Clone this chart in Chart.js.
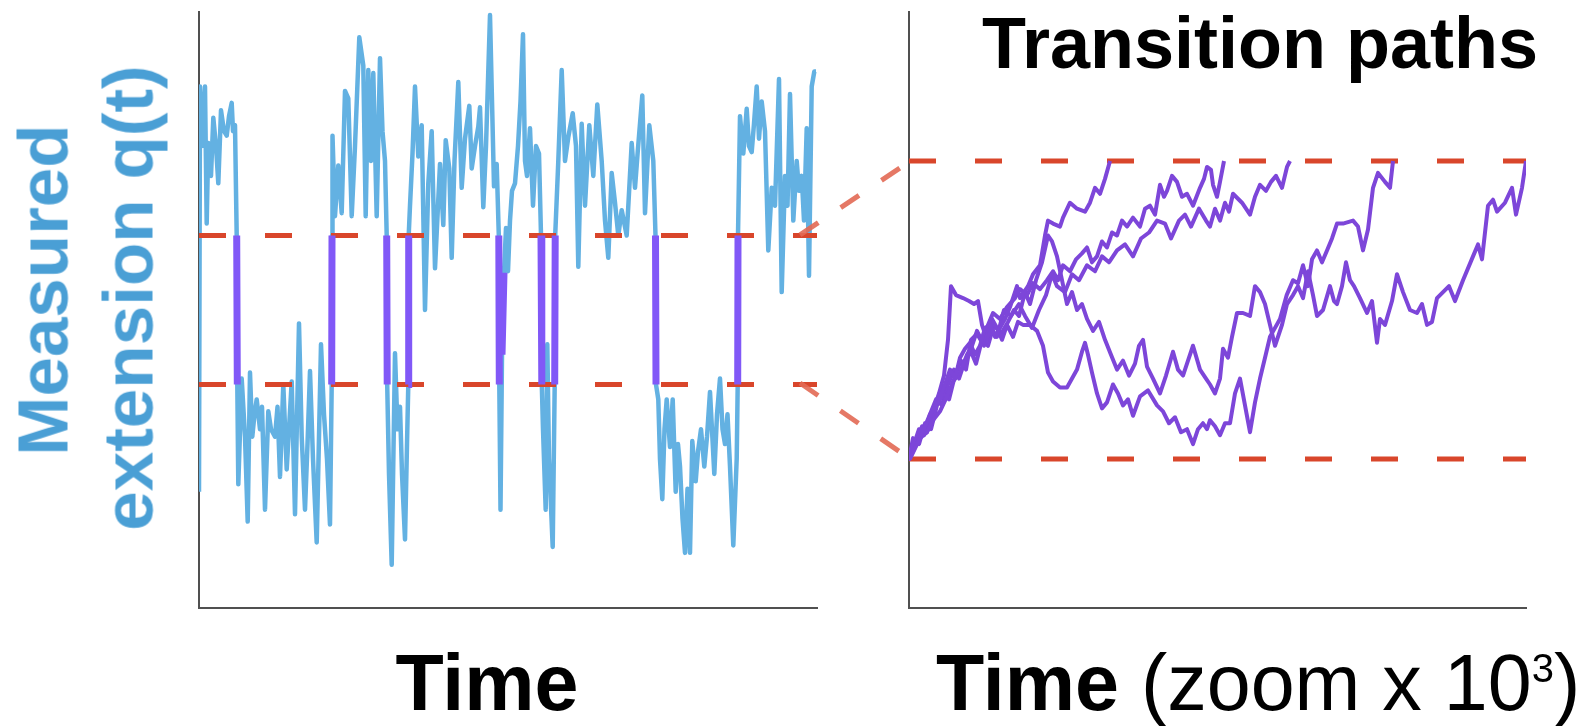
<!DOCTYPE html>
<html>
<head>
<meta charset="utf-8">
<title>Transition paths</title>
<script src="https://cdn.jsdelivr.net/npm/chart.js@4.4.1/dist/chart.umd.min.js"></script>
<style>
  html, body { margin: 0; padding: 0; background: #fff; }
  #figure { position: relative; width: 1589px; height: 726px; overflow: hidden; font-family: "Liberation Sans", Arial, sans-serif; }
  canvas { position: absolute; top: 0; }
  #leftChart { left: 0; }
  #rightChart { left: 780px; }
  .label { position: absolute; white-space: nowrap; line-height: 1; }
  .ylab { font-weight: bold; font-size: 71px; color: #4a9fd5; transform: translate(-50%, -50%) rotate(-90deg); }
  .xlab { font-size: 79px; color: #000; top: 643px; }
  .title { font-weight: bold; font-size: 72px; color: #000; top: 7px; left: 1260px; transform: translateX(-50%); }
  sup { font-size: 40px; vertical-align: 28px; line-height: 1; }
</style>
</head>
<body>
<div id="figure">
  <canvas id="leftChart" width="830" height="726"></canvas>
  <canvas id="rightChart" width="809" height="726"></canvas>
  <div class="label ylab" style="left:43px; top:290px;">Measured</div>
  <div class="label ylab" style="left:128px; top:298px;">extension q(t)</div>
  <div class="label xlab" style="left:487px; transform:translateX(-50%); font-weight:bold;">Time</div>
  <div class="label xlab" style="left:936px;"><b>Time</b> (zoom x 10<sup>3</sup>)</div>
  <div class="label title">Transition paths</div>
</div>
<script>
// Measured extension trace: [time, q], q in units of the two thresholds (0 = lower, 1 = upper)
const extensionTrace = [
    [0,-0.72],[1,2.0],[3,1.6],[6,2.0],[7.7,1.08],[9.3,1.62],[12,1.4],[14.3,1.79],[17,1.6],[19.3,1.35],[22,1.84],[25,1.7],[27.7,1.67],[30,1.8],[32.7,1.89],[34,1.7],[36,1.74],[37.7,1.0],
    [38.3,0.0],[39.3,-0.67],[42.7,0.04],[46,-0.35],[48.7,-0.92],[51,0.08],[53.3,-0.35],[55.5,-0.2],[57.7,-0.1],[61,-0.3],[63,-0.15],[66,-0.84],[69.3,-0.18],[72,-0.3],[76,-0.35],[78.5,-0.15],[81,-0.62],[84.3,0.0],[87.7,-0.57],[90,-0.3],[92.7,0.02],[96,-0.87],[100,0.41],[102.7,-0.35],[106,-0.84],[108.5,-0.4],[111,0.09],[114,-0.5],[117.7,-1.06],[122,0.27],[125,-0.2],[128,-0.5],[131,-0.94],[132.7,0.0],
    [133,1.0],[133.5,1.67],[136,1.13],[139.3,1.47],[142.7,1.15],[146,1.97],[149.3,1.92],[152.7,1.13],[156,1.6],[160.3,2.33],[164.3,2.14],[166.7,1.13],[169.3,2.11],[172,1.5],[174.3,2.09],[177.7,1.13],[181,2.19],[183.5,1.7],[186,1.5],[187.7,1.0],
    [188.2,0.0],[190,-0.6],[192.7,-1.21],[196,0.21],[198.5,-0.3],[201,-0.15],[203,-0.6],[206,-1.04],[208,-0.4],[209.3,0.0],
    [209.7,1.0],[211,1.2],[213.5,1.55],[216,2.0],[219.3,1.53],[222.7,1.74],[226,0.5],[229.3,1.35],[232.7,1.7],[236,0.78],[239,1.2],[241,1.48],[244.3,1.07],[246.7,1.64],[250.3,1.45],[252.7,0.85],[255.5,1.5],[259.3,2.03],[262.7,1.32],[266,1.65],[270.3,1.87],[272.7,1.45],[276,1.6],[279.3,1.73],[281,1.86],[284.3,1.19],[287,1.6],[291,2.48],[295,1.33],[297.7,1.48],[299.8,1.0],
    [300.3,0.0],[301.5,-0.84],[303,0.2],[305,0.75],[307,1.05],[309,0.76],[311,1.1],[313,1.3],[316,1.35],[319,1.6],[321.5,1.9],[324,2.35],[326,1.5],[328,1.4],[331,1.72],[334,1.2],[337,1.6],[340,1.55],[342,1.0],
    [342.8,0.0],[344,-0.3],[346.7,-0.84],[348.3,0.27],[350,-0.5],[353.7,-1.09],[355.7,0.0],
    [356.2,1.0],[359.3,1.5],[362.7,2.11],[366,1.5],[369.3,1.66],[373.7,1.82],[377,1.6],[379.3,0.79],[382.7,1.75],[386,1.2],[390.3,1.74],[394.3,1.4],[398.3,1.88],[402.7,1.5],[406,1.1],[409.3,0.85],[412.7,1.42],[416,1.22],[419.3,1.0],[422.7,1.17],[427.7,1.0],[432.7,1.62],[436,1.32],[438.7,1.56],[443.3,1.94],[446,1.15],[450.3,1.74],[454.3,1.5],[456.5,1.0],
    [457,0.0],[459.3,-0.1],[461,-0.5],[463.3,-0.77],[465.5,-0.3],[467.7,-0.1],[471,-0.42],[473.7,-0.1],[476.7,-0.72],[479,-0.4],[481,-0.55],[483.5,-0.9],[486,-1.13],[488.5,-0.7],[491,-1.13],[493.3,-0.38],[496.7,-0.65],[499,-0.45],[502,-0.3],[505.3,-0.55],[508,-0.35],[511,-0.05],[515.3,-0.6],[518,-0.2],[521,0.04],[523.5,-0.3],[526,-0.4],[528.5,-0.2],[531,-0.55],[534.3,-1.08],[537.7,-0.5],[538.7,0.0],
    [539,1.0],[541,1.8],[544.3,1.55],[547.7,1.85],[550,1.6],[552.7,1.56],[555,1.75],[557.7,2.0],[560,1.65],[562.7,1.9],[566,1.7],[569.3,0.9],[572.7,1.32],[576,1.2],[580,2.05],[582.7,0.62],[586,1.4],[588.5,1.2],[591,1.95],[594.3,1.1],[597.7,1.5],[600,1.3],[602.7,1.4],[605,1.1],[607.7,1.72],[610,0.73],[612.7,2.0],[615.3,2.1],[617,2.1]
];

// Threshold levels (lower / upper)
const thresholds = [0, 1];

// Zoomed transition paths: [time, q]
const pathA = [[0,0],[1,0],[11,0.07],[21,0.15],[31,0.2],[41,0.3],[46,0.27],[51,0.34],[56,0.37],[61,0.39],[66,0.35],[71,0.38],[76,0.44],[81,0.45],[86,0.41],[91,0.44],[96,0.47],[101,0.51],[108,0.58],[111,0.54],[119,0.58],[124,0.62],[131,0.65],[136,0.75],[139,0.8],[144,0.79],[151,0.78],[154,0.81],[161,0.86],[168,0.84],[176,0.83],[181,0.86],[186,0.91],[191,0.89],[196,0.94],[201,1.0]];
const pathB = [[0,0],[6,0.04],[11,0.07],[18,0.09],[24,0.13],[31,0.16],[38,0.21],[44,0.26],[51,0.29],[58,0.35],[63,0.38],[68,0.43],[74,0.39],[79,0.45],[84,0.49],[91,0.47],[98,0.51],[106,0.54],[111,0.57],[118,0.55],[124,0.59],[131,0.57],[138,0.6],[144,0.63],[149,0.6],[154,0.65],[161,0.63],[167,0.67],[173,0.69],[178,0.71],[183,0.66],[188,0.68],[193,0.73],[198,0.71],[203,0.76],[208,0.75],[213,0.8],[218,0.78],[224,0.81],[231,0.78],[236,0.84],[241,0.85],[246,0.82],[251,0.92],[255,0.88],[258,0.9],[263,0.95],[268,0.93],[273,0.88],[278,0.89],[284,0.85],[291,0.91],[295,0.94],[298,0.98],[302,0.97],[304,0.92],[308,0.88],[311,0.93],[315,1.0]];
const pathC = [[0,0],[5,0.06],[10,0.05],[16,0.12],[22,0.1],[28,0.18],[34,0.22],[40,0.2],[46,0.28],[52,0.33],[57,0.3],[62,0.4],[68,0.42],[75,0.38],[82,0.44],[88,0.41],[95,0.5],[102,0.48],[110,0.52],[116,0.48],[123,0.44],[130,0.5],[137,0.55],[143,0.62],[148,0.58],[156,0.56],[163,0.62],[170,0.6],[178,0.65],[186,0.63],[193,0.68],[200,0.66],[208,0.7],[216,0.72],[224,0.68],[232,0.74],[240,0.76],[248,0.8],[256,0.79],[262,0.74],[270,0.8],[276,0.82],[282,0.78],[290,0.84],[297,0.8],[301,0.78],[306,0.84],[311,0.8],[316,0.86],[320,0.83],[324,0.89],[333,0.86],[341,0.82],[346,0.88],[351,0.92],[357,0.9],[362,0.93],[367,0.95],[373,0.91],[378,0.98],[381,1.0]];
const pathD = [[0,0],[4,0.07],[8,0.05],[13,0.11],[18,0.09],[24,0.16],[30,0.22],[35,0.28],[39,0.4],[42,0.58],[47,0.55],[54,0.54],[60,0.53],[65,0.52],[69,0.53],[73,0.45],[78,0.4],[83,0.47],[88,0.44],[93,0.4],[98,0.45],[104,0.41],[109,0.46],[114,0.45],[121,0.45],[128,0.43],[134,0.38],[139,0.29],[144,0.26],[151,0.24],[158,0.24],[163,0.27],[168,0.3],[173,0.36],[176,0.39],[179,0.35],[183,0.29],[188,0.22],[193,0.17],[198,0.19],[204,0.25],[209,0.22],[214,0.18],[219,0.2],[224,0.145],[231,0.21],[239,0.23],[248,0.18],[254,0.16],[260,0.12],[266,0.14],[272,0.09],[278,0.1],[284,0.05],[289,0.1],[294,0.12],[298,0.1],[301,0.13],[306,0.11],[311,0.08],[316,0.12],[321,0.12],[326,0.22],[331,0.27],[336,0.18],[341,0.09],[346,0.19],[351,0.27],[356,0.34],[361,0.41],[366,0.44],[371,0.47],[377.7,0.55],[384,0.6],[389,0.59],[394,0.65],[399,0.58],[403,0.67],[408,0.7],[413,0.66],[418,0.7],[423,0.74],[428,0.79],[434,0.79],[444,0.8],[449,0.78],[454,0.7],[459,0.77],[464,0.91],[469,0.96],[476,0.93],[481,0.91],[484,1.0]];
const pathE = [[0,0],[5,0.05],[10,0.1],[15,0.08],[21,0.15],[27,0.2],[33,0.18],[39,0.25],[45,0.3],[50,0.27],[56,0.33],[62,0.36],[67,0.32],[73,0.4],[79,0.38],[85,0.45],[92,0.42],[99,0.46],[105,0.5],[110,0.48],[116,0.56],[121,0.52],[127,0.6],[133,0.66],[139,0.75],[143,0.73],[148,0.68],[153,0.6],[158,0.52],[163,0.56],[168,0.5],[173,0.52],[178,0.47],[184,0.43],[190,0.46],[196,0.4],[202,0.35],[208,0.3],[214,0.33],[220,0.28],[226,0.32],[230,0.38],[234,0.4],[238,0.31],[244,0.27],[251,0.22],[257,0.28],[264,0.36],[269,0.3],[274,0.28],[279,0.33],[284,0.38],[291,0.3],[297,0.27],[301,0.25],[306,0.22],[311,0.27],[314,0.37],[319,0.34],[323,0.41],[328,0.49],[334,0.49],[341,0.48],[346,0.58],[351,0.56],[356,0.52],[361,0.45],[366,0.38],[373,0.45],[378,0.52],[384,0.55],[389,0.58],[394,0.54],[399,0.63],[404,0.55],[408,0.48],[414,0.5],[421,0.58],[425,0.53],[428,0.52],[433,0.58],[437,0.66],[441,0.6],[445,0.58],[451,0.54],[458,0.49],[463,0.53],[468,0.39],[471,0.47],[476,0.45],[483,0.53],[488,0.62],[494,0.56],[501,0.5],[508,0.49],[513,0.52],[518,0.45],[523,0.46],[528,0.54],[534,0.56],[540,0.58],[546,0.53],[554,0.6],[564,0.68],[569,0.72],[573,0.67],[579,0.85],[584,0.87],[588,0.83],[596,0.86],[603,0.91],[607,0.82],[613,0.91],[617,1.0]];

// Zoom connectors, in the right panel's units (time < 0 lies left of its axis)
const connectorUpper = [[-109, 0.752], [-3, 0.99]];
const connectorLower = [[-109, 0.255], [-3, 0.01]];

const leftTimeMax = 618;
const rightTimeMax = 617;

// Colors
const traceBlue = '#63b1e2';
const barPurple = '#8158f7';
const pathPurple = '#7d46d9';
const dashRed = '#d9462b';
const axisGray = '#505050';

function toPoints(pairs) {
    return pairs.map(p => ({ x: p[0], y: p[1] }));
}

// Pieces of the trace lying between the two thresholds
function transitionPieces(trace) {
    const pts = [];
    for (let i = 0; i < trace.length - 1; i++) {
        const a = trace[i], b = trace[i + 1];
        if (a[1] >= 0 && a[1] <= 1 && b[1] >= 0 && b[1] <= 1) {
            pts.push({ x: a[0], y: a[1] }, { x: b[0], y: b[1] }, { x: b[0], y: null });
        }
    }
    return pts;
}

function thresholdDataset(level, tMax) {
    return {
        data: [{ x: 0, y: level }, { x: tMax, y: level }],
        borderColor: dashRed,
        borderWidth: 5,
        borderDash: [27, 39],
        borderCapStyle: 'butt',
        pointRadius: 0,
        order: 2
    };
}

function axisOptions(min, max) {
    return {
        type: 'linear',
        min: min,
        max: max,
        ticks: { display: false },
        grid: { display: false, drawTicks: false },
        border: { display: true, color: axisGray, width: 2 }
    };
}

function baseOptions(xMax, yMin, yMax, padding) {
    return {
        responsive: false,
        animation: false,
        layout: { padding: padding },
        plugins: { legend: { display: false }, tooltip: { enabled: false } },
        elements: { line: { tension: 0 } },
        scales: {
            x: axisOptions(0, xMax),
            y: axisOptions(yMin, yMax)
        }
    };
}

// Left panel: full trace
new Chart(document.getElementById('leftChart').getContext('2d'), {
    type: 'line',
    data: {
        datasets: [
            {
                data: transitionPieces(extensionTrace),
                borderColor: barPurple,
                borderWidth: 7,
                pointRadius: 0,
                spanGaps: false,
                order: 0
            },
            thresholdDataset(thresholds[0], leftTimeMax),
            thresholdDataset(thresholds[1], leftTimeMax),
            {
                data: toPoints(extensionTrace),
                borderColor: traceBlue,
                borderWidth: 4.5,
                borderJoinStyle: 'round',
                pointRadius: 0,
                order: 3
            }
        ]
    },
    options: baseOptions(leftTimeMax, -1.5, 2.5, { left: 199, right: 13, top: 12, bottom: 118 })
});

// Right panel: zoomed transition paths
const rightDatasets = [
    thresholdDataset(thresholds[0], rightTimeMax),
    thresholdDataset(thresholds[1], rightTimeMax)
];
[pathA, pathB, pathC, pathD, pathE].forEach(path => {
    rightDatasets.push({
        data: toPoints(path),
        borderColor: pathPurple,
        borderWidth: 4,
        borderJoinStyle: 'round',
        pointRadius: 0,
        order: 1
    });
});
[connectorUpper, connectorLower].forEach(conn => {
    rightDatasets.push({
        data: toPoints(conn),
        borderColor: 'rgba(226, 105, 84, 0.9)',
        borderWidth: 5,
        borderDash: [22, 27],
        borderCapStyle: 'butt',
        pointRadius: 0,
        clip: false,
        order: 3
    });
});

new Chart(document.getElementById('rightChart').getContext('2d'), {
    type: 'line',
    data: { datasets: rightDatasets },
    options: baseOptions(rightTimeMax, -0.5, 1.5, { left: 129, right: 63, top: 12, bottom: 118 })
});
</script>
</body>
</html>
